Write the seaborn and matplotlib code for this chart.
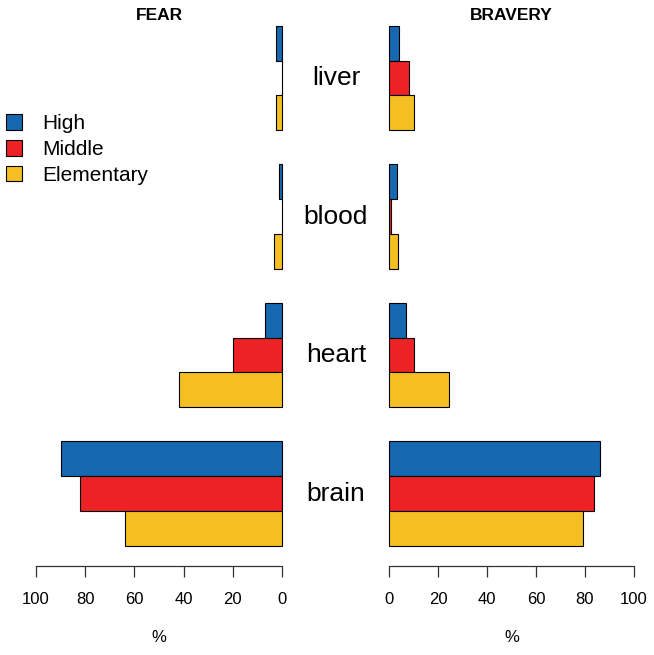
import matplotlib
matplotlib.use("Agg")
import matplotlib.pyplot as plt
import seaborn as sns
import pandas as pd

organs = ["liver", "blood", "heart", "brain"]
levels = ["High", "Middle", "Elementary"]
fear_high = [2.4, 1.4, 7, 90]
fear_middle = [0, 0, 20, 82]
fear_elem = [2.4, 3.4, 42, 64]
brav_high = [4, 3.4, 7, 86]
brav_middle = [8, 0.8, 10, 83.5]
brav_elem = [10, 3.6, 24.5, 79]
ticks = [0, 20, 40, 60, 80, 100]
colors = ["#1668B1", "#ED2224", "#F5BE22"]


def long_df(h, m, e):
    rows = []
    for lvl, vals in zip(levels, [h, m, e]):
        for o, v in zip(organs, vals):
            rows.append({"organ": o, "level": lvl, "value": v})
    return pd.DataFrame(rows)


fear_df = long_df(fear_high, fear_middle, fear_elem)
brav_df = long_df(brav_high, brav_middle, brav_elem)

sns.set_style("white")
plt.rcParams["font.family"] = ["Liberation Sans", "DejaVu Sans"]
plt.rcParams["text.color"] = "black"
plt.rcParams["xtick.color"] = "black"
plt.rcParams["axes.labelcolor"] = "black"

W, H = 654, 655
fig = plt.figure(figsize=(W / 100, H / 100), dpi=100)

def px_axes(x0, x1, ytop, ybot):
    return fig.add_axes([x0 / W, (H - ybot) / H, (x1 - x0) / W, (ybot - ytop) / H])

ax_l = px_axes(36, 282, 10, 566)
ax_r = px_axes(389, 634, 10, 566)

for ax, df, xl in [(ax_l, fear_df, (100, 0)), (ax_r, brav_df, (0, 100))]:
    sns.barplot(data=df, y="organ", x="value", hue="level", orient="h",
                order=organs, hue_order=levels, palette=colors, width=0.756,
                edgecolor="black", linewidth=0.8, errorbar=None, ax=ax,
                legend=(ax is ax_l), saturation=1)
    for p in ax.patches:
        p.set_clip_on(False)
    ax.set_xlim(*xl)
    ax.set_ylim(3.523, -0.491)
    ax.set_xticks(ticks)
    ax.set_xticklabels([str(t) for t in ticks], fontsize=12)
    ax.tick_params(axis="x", length=8, width=0.9, color="#333333", pad=10.5, bottom=True)
    ax.set_yticks([])
    ax.set_ylabel("")
    ax.set_xlabel("%", fontsize=12, labelpad=17)
    for s in ["left", "right", "top"]:
        ax.spines[s].set_visible(False)
    ax.spines["bottom"].set_color("#333333")
    ax.spines["bottom"].set_linewidth(0.9)
    ax.patch.set_alpha(0)

fig.text(159 / W, 1 - 15 / H, "FEAR", ha="center", va="center", fontsize=12.5, fontweight="bold")
fig.text(511 / W, 1 - 15 / H, "BRAVERY", ha="center", va="center", fontsize=12.5, fontweight="bold")

# organ labels between panels
for i, o in enumerate(organs):
    ax_l.annotate(o, xy=(336 / W, i), xycoords=("figure fraction", "data"),
                  ha="center", va="center", fontsize=19, annotation_clip=False)

handles, labels = ax_l.get_legend_handles_labels()
ax_l.get_legend().remove()
fig.legend(handles, labels, loc="upper left", bbox_to_anchor=(-2 / W, 1 - 106 / H),
           frameon=False, fontsize=15, handlelength=0.75, handleheight=0.75,
           handletextpad=0.95, labelspacing=0.33, borderaxespad=0.0)

fig.savefig("out.png", dpi=100)
